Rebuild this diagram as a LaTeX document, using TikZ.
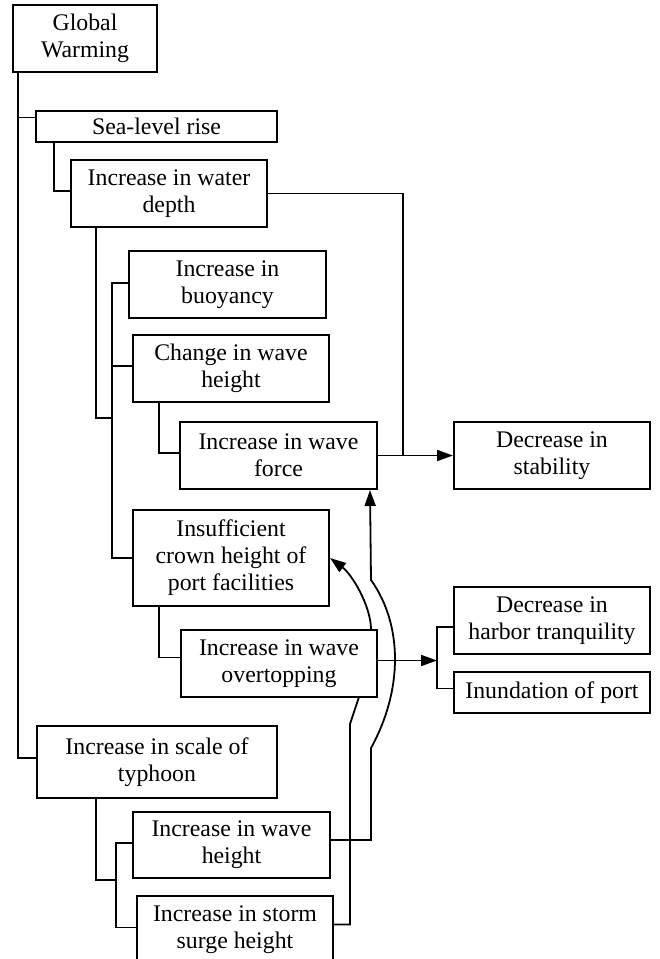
\documentclass[tikz,border=0pt]{standalone}
\usepackage{fontspec}
\setmainfont{Liberation Serif}
\usetikzlibrary{calc,arrows.meta}
\pgfdeclarelayer{bg}
\pgfsetlayers{bg,main}
\begin{document}
\begin{tikzpicture}[x=1pt,y=-1pt,
  box/.style={draw, line width=2pt, fill=white, inner sep=0pt, align=center,
    font=\fontsize{23.8}{27}\selectfont},
  conn/.style={line width=1.8pt},
  arr/.style={conn, -{Triangle[length=16pt,width=11pt]}}]
\clip (0,0) rectangle (659,959);

\node[box, minimum width=144pt, minimum height=67pt] (gw) at (85,38.5) {Global\\Warming};
\node[box, minimum width=241pt, minimum height=31pt] (slr) at (156.5,126.5) {Sea-level rise};
\node[box, minimum width=196pt, minimum height=67pt] (wd) at (169,193.5) {Increase in water\\depth};
\node[box, minimum width=197pt, minimum height=67pt] (buoy) at (227.5,284.5) {Increase in\\buoyancy};
\node[box, minimum width=196pt, minimum height=67pt] (cwh) at (231,368.5) {Change in wave\\height};
\node[box, minimum width=197pt, minimum height=67pt] (wf) at (278.5,455.5) {Increase in wave\\force};
\node[box, minimum width=196pt, minimum height=67pt] (stab) at (552,455.5) {Decrease in\\stability};
\node[box, minimum width=196pt, minimum height=96pt] (ich) at (231,558) {Insufficient\\crown height of\\port facilities};
\node[box, minimum width=196pt, minimum height=67pt] (wo) at (279,663.5) {Increase in wave\\overtopping};
\node[box, minimum width=196pt, minimum height=67pt] (trq) at (552,620.5) {Decrease in\\harbor tranquility};
\node[box, minimum width=196pt, minimum height=41pt] (inund) at (552,692.5) {Inundation of port};
\node[box, minimum width=240pt, minimum height=72pt] (typh) at (157,762) {Increase in scale of\\typhoon};
\node[box, minimum width=197pt, minimum height=66pt] (iwh) at (231.5,845) {Increase in wave\\height};
\node[box, minimum width=196pt, minimum height=67pt] (ssh) at (235,929.5) {Increase in storm\\surge height};

\coordinate (b1) at ($(ich.west)+(-20,-140)$);
\coordinate (b2) at ($(ssh.west)+(-20,-49.5)$);
\coordinate (j1) at ($(wf.east)+(25,0)$);
\coordinate (j2) at ($(inund.west)+(-16,-32)$);

\begin{pgfonlayer}{bg}
\fill[white] (0,0) rectangle (659,959);
% global warming trunk
\draw[conn] ($(gw.south west)+(6,0)$) |- ($(typh.west)+(0,-4)$);
\draw[conn] ($(slr.west)+(-17,-9)$) -- ($(slr.west)+(0,-9)$);
% sea-level rise -> water depth
\draw[conn] ($(slr.south west)+(19,0)$) |- ($(wd.west)+(0,-2.5)$);
% water depth -> group
\draw[conn] ($(wd.south west)+(26,0)$) |- (b1);
\draw[conn] ($(buoy.west)+(0,-1.5)$) -| ($(ich.west)+(-20,0)$) -- (ich.west);
\draw[conn] ($(cwh.west)+(0,-2.5)$) -- ++(-20,0);
% change in wave height -> wave force
\draw[conn] ($(cwh.south west)+(27,0)$) |- ($(wf.west)+(0,-2.5)$);
% insufficient -> overtopping
\draw[conn] ($(ich.south west)+(27,0)$) |- ($(wo.west)+(0,-6)$);
% typhoon -> children
\draw[conn] ($(typh.south west)+(60,0)$) |- (b2);
\draw[conn] ($(iwh.west)+(0,-2)$) -| ($(ssh.west)+(-20,-2)$) -- ($(ssh.west)+(0,-2)$);
% to stability
\draw[conn] (wd.east) -| (j1);
\draw[arr] (wf.east) -- (stab.west);
% to harbor
\draw[arr] ($(wo.east)+(0,-3)$) -- (j2);
\draw[conn] ($(trq.west)+(0,6.5)$) -| ($(inund.west)+(-16,-4)$) -- ($(inund.west)+(0,-4)$);
% wave height -> wave force
\draw[arr] ($(iwh.east)+(0,-5)$) -- ($(iwh.east)+(40,-5)$) -- ($(iwh.east)+(40,-97)$)
   .. controls ($(iwh.east)+(72,-155)$) and ($(iwh.east)+(72,-220)$) .. ($(iwh.east)+(40,-265)$)
   -- ($(wf.south)+(91.5,0)$);
% storm surge -> insufficient crown height
\draw[arr] ($(ssh.east)+(0,-5)$) -- ($(ssh.east)+(16,-5)$) -- ($(ssh.east)+(16,-205.5)$)
   -- ($(ssh.east)+(25,-232.5)$) -- ($(ssh.east)+(37,-301.5)$)
   .. controls ($(ssh.east)+(36,-325)$) and ($(ssh.east)+(18,-355)$) .. (ich.east);
\end{pgfonlayer}
\end{tikzpicture}
\end{document}
